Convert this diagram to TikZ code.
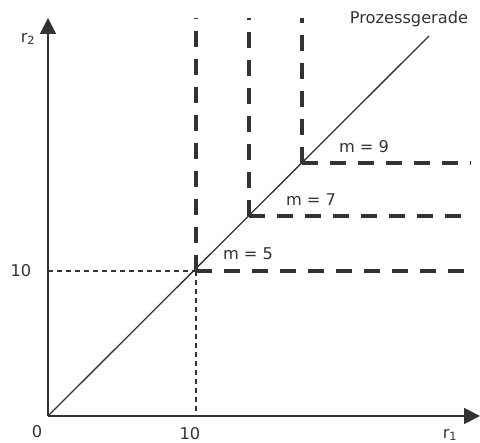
\documentclass[tikz,border=0pt]{standalone}
\usepackage{fontspec}
\setmainfont{DejaVu Sans}
\usetikzlibrary{arrows.meta}
\definecolor{ink}{HTML}{333333}
\begin{document}
\begin{tikzpicture}[x=1pt,y=1pt,
  axis/.style={draw=ink,line width=1.8pt,-{Triangle[width=16pt,length=16pt]}},
  proc/.style={draw=ink,line width=1.3pt},
  thindash/.style={draw=ink,line width=1.4pt,dash pattern=on 5pt off 4pt},
  thickdash/.style={draw=ink,line width=4pt,dash pattern=on 16pt off 12pt},
  lbl/.style={text=ink,font=\fontsize{16.2}{19}\selectfont,inner sep=0pt}]
\useasboundingbox (0,0) rectangle (480,443);
% coordinates
\coordinate (O) at (48,27);
\coordinate (xend) at (480,27);
\coordinate (yend) at (48,425);
\coordinate (pend) at (429,407);
\coordinate (A5) at (196,172);
\coordinate (A7) at (249,227);
\coordinate (A9) at (302,280);
\coordinate (y10) at (48,172);
\coordinate (x10) at (196,27);
\coordinate (A5t) at (196,425);
\coordinate (A7t) at (249,425);
\coordinate (A9t) at (302,425);
\coordinate (A5r) at (466,172);
\coordinate (A7r) at (471,227);
\coordinate (A9r) at (471,280);
% thin dashed guides
\draw[thindash] (y10) -- (A5);
\draw[thindash] (A5) -- (x10);
% thick dashed isolines
\draw[thickdash] (A5) -- (A5t);
\draw[thickdash] (A5) -- (A5r);
\draw[thickdash] (A7) -- (A7t);
\draw[thickdash] (A7) -- (A7r);
\draw[thickdash] (A9) -- (A9t);
\draw[thickdash] (A9) -- (A9r);
% process line
\draw[proc] (O) -- (pend);
% axes
\draw[axis] (O) -- (xend);
\draw[axis] (O) -- (yend);
% labels
\node[lbl] (lr2) at (28,404) {r\textsubscript{2}};
\node[lbl] (lr1) at (450,8) {r\textsubscript{1}};
\node[lbl] (l0) at (37,11) {0};
\node[lbl] (ly10) at (21,172) {10};
\node[lbl] (lx10) at (190,9) {10};
\node[lbl] (lproc) at (409,424) {Prozessgerade};
\node[lbl] (lm5) at (248,189) {m = 5};
\node[lbl] (lm7) at (311,243) {m = 7};
\node[lbl] (lm9) at (364,296) {m = 9};
\end{tikzpicture}
\end{document}
